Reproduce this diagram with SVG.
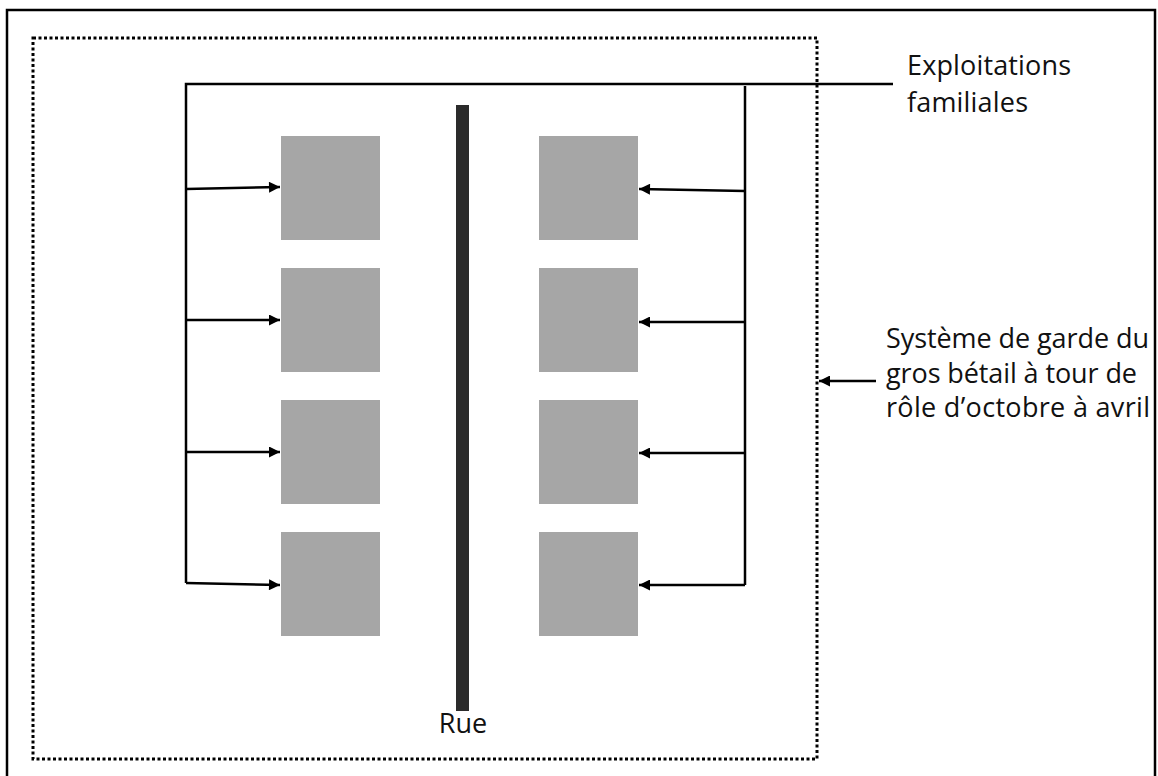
<svg xmlns="http://www.w3.org/2000/svg" width="1158" height="776" viewBox="0 0 1158 776">
<defs>
<style>
.ln{fill:none;stroke:#000;stroke-width:2.5}
.arr{fill:none;stroke:#000;stroke-width:2.5;marker-end:url(#ah)}
.sq{fill:#a6a6a6}
.t{font-family:"Open Sans","Noto Sans",sans-serif;font-size:27px;fill:#111}
</style>
<marker id="ah" viewBox="0 0 10 10" refX="10" refY="5" markerWidth="4.8" markerHeight="4.4" orient="auto" markerUnits="strokeWidth">
<path d="M0,0 L10,5 L0,10 z" fill="#000"/>
</marker>
</defs>
<rect x="0" y="0" width="1158" height="776" fill="#fff"/>
<rect id="frame" x="7" y="10" width="1148" height="780" fill="none" stroke="#000" stroke-width="2.5"/>
<rect id="system" x="33" y="38" width="784" height="721" fill="none" stroke="#000" stroke-width="3" stroke-dasharray="3 2.5"/>
<g id="road">
<rect x="456" y="105" width="13" height="606" fill="#2b2b2b"/>
<text class="t" x="463" y="733" text-anchor="middle">Rue</text>
</g>
<g id="farms-left">
<rect class="sq" x="281" y="136" width="99" height="104"/>
<rect class="sq" x="281" y="268" width="99" height="104"/>
<rect class="sq" x="281" y="400" width="99" height="104"/>
<rect class="sq" x="281" y="532" width="99" height="104"/>
</g>
<g id="farms-right">
<rect class="sq" x="539" y="136" width="99" height="104"/>
<rect class="sq" x="539" y="268" width="99" height="104"/>
<rect class="sq" x="539" y="400" width="99" height="104"/>
<rect class="sq" x="539" y="532" width="99" height="104"/>
</g>
<g id="connectors">
<path class="ln" d="M893,84 L186,84 L186,583"/>
<path class="ln" d="M745,86 L745,585"/>
<path class="arr" d="M186,189 L280,187"/>
<path class="arr" d="M186,320 L280,320"/>
<path class="arr" d="M186,452 L280,452"/>
<path class="arr" d="M186,583 L280,585"/>
<path class="arr" d="M745,191 L639,189"/>
<path class="arr" d="M745,322 L639,322"/>
<path class="arr" d="M745,453 L639,453"/>
<path class="arr" d="M745,585 L639,585"/>
<path class="arr" d="M876,381 L819,381"/>
</g>
<g id="label-farms">
<text class="t" x="907" y="75" textLength="164">Exploitations</text>
<text class="t" x="907" y="112" textLength="121">familiales</text>
</g>
<g id="label-system">
<text class="t" x="886" y="348" textLength="263">Système de garde du</text>
<text class="t" x="886" y="383" textLength="251">gros bétail à tour de</text>
<text class="t" x="886" y="417" textLength="264">rôle d’octobre à avril</text>
</g>
</svg>
